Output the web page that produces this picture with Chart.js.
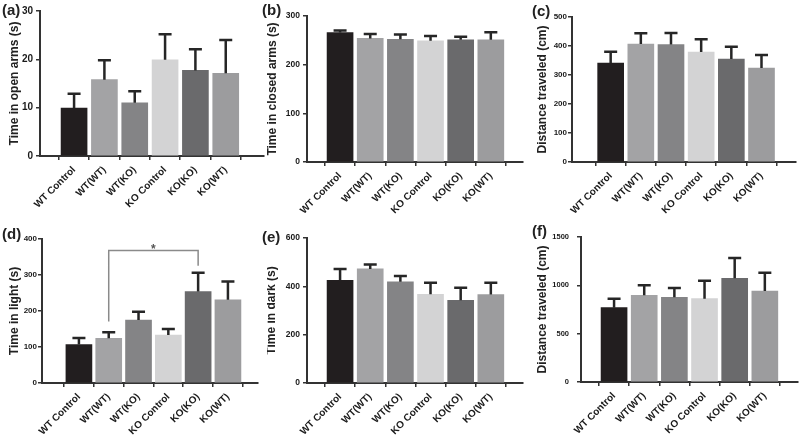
<!DOCTYPE html>
<html>
<head>
<meta charset="utf-8">
<script src="https://cdn.jsdelivr.net/npm/chart.js@4.4.1/dist/chart.umd.min.js"></script>
<style>
  body { margin: 0; background: #fff; }
  #wrap { position: relative; width: 800px; height: 438px; overflow: hidden; background: #fff; }
  #wrap canvas { position: absolute; }
  .tag { position: absolute; font: bold 15px "Liberation Sans", Arial, sans-serif; color: #222; line-height: 15px; }
</style>
</head>
<body>
<div id="wrap"></div>
<script>
const categories = ['WT Control', 'WT(WT)', 'WT(KO)', 'KO Control', 'KO(KO)', 'KO(WT)'];

// means and upper error (SEM) per group
const openArms      = [9.9, 15.8, 11.0, 19.9, 17.7, 17.1];
const openArmsErr   = [3.0, 4.0, 2.4, 5.3, 4.4, 6.9];
const closedArms    = [266, 254, 252, 249, 251, 251];
const closedArmsErr = [4, 9, 10, 10, 6.5, 15.5];
const distEpm       = [341, 407, 405, 379, 355, 324];
const distEpmErr    = [39, 37, 40, 44, 42, 45];
const lightTime     = [107, 124, 175, 133, 254, 231];
const lightTimeErr  = [18, 17, 23, 17, 52, 51];
const darkTime      = [425, 472, 419, 367, 342, 366];
const darkTimeErr   = [47, 18, 24, 48, 52, 49];
const distLd        = [769, 897, 876, 862, 1072, 941];
const distLdErr     = [93, 103, 96, 186, 211, 190];

// significance bracket in (d): groups joined, leg ends and top
const sigPair = [1, 4];
const sigLegs = [171, 326];
const sigTop = 368;

const barColors = ['#221e1f', '#a3a3a5', '#848486', '#d3d3d4', '#6a6a6c', '#9c9c9e'];
const FONT = '"Liberation Sans", Arial, sans-serif';

const panels = [
  {tag: '(a)', tx: 2, ty: 2, box: [0, 0, 267, 219], axisW: 40, padTop: 11, axisH: 63, padRight: 3,
   xMin: -0.508, xMax: 5.646, yMax: 30, step: 10, title: 'Time in open arms (s)', tPad: 9,
   yFont: 10, yPad: 3, mean: openArms, err: openArmsErr},
  {tag: '(b)', tx: 262, ty: 2, box: [267, 0, 266, 219], axisW: 40, padTop: 16, axisH: 57, padRight: 10,
   xMin: -0.5, xMax: 5.47, yMax: 300, step: 100, title: 'Time in closed arms (s)', tPad: 0,
   yFont: 8.5, yPad: 3, mean: closedArms, err: closedArmsErr},
  {tag: '(c)', tx: 532, ty: 3, box: [533, 0, 267, 219], axisW: 39, padTop: 17, axisH: 57, padRight: 4,
   xMin: -0.663, xMax: 5.525, yMax: 500, step: 100, title: 'Distance traveled (cm)', tPad: 4,
   yFont: 8, yPad: 1, mean: distEpm, err: distEpmErr},
  {tag: '(d)', tx: 2, ty: 226, box: [0, 219, 267, 219], axisW: 42, padTop: 20, axisH: 55, padRight: 9,
   xMin: -0.635, xMax: 5.405, yMax: 400, step: 100, title: 'Time in light (s)', tPad: 9,
   yFont: 8, yPad: 1, mean: lightTime, err: lightTimeErr, bracket: true},
  {tag: '(e)', tx: 262, ty: 229, box: [267, 219, 266, 219], axisW: 40, padTop: 19, axisH: 55, padRight: 10,
   xMin: -0.5, xMax: 5.47, yMax: 600, step: 200, title: 'Time in dark (s)', tPad: -1,
   yFont: 8.5, yPad: 3, mean: darkTime, err: darkTimeErr},
  {tag: '(f)', tx: 532, ty: 223, box: [533, 219, 267, 219], axisW: 48, padTop: 18, axisH: 56, padRight: 2,
   xMin: -0.497, xMax: 5.5, yMax: 1500, step: 500, title: 'Distance traveled (cm)', tPad: 4,
   yFont: 7.5, yPad: 8, mean: distLd, err: distLdErr}
];

function errorBars(p) {
  return {
    id: 'errorBars',
    afterDatasetsDraw(chart) {
      const {ctx, scales: {x, y}} = chart;
      ctx.save();
      ctx.strokeStyle = '#262626';
      ctx.lineWidth = 2.5;
      p.mean.forEach((m, i) => {
        const cx = x.getPixelForValue(i);
        const y0 = y.getPixelForValue(m);
        const y1 = y.getPixelForValue(m + p.err[i]);
        ctx.beginPath();
        ctx.moveTo(cx, y0);
        ctx.lineTo(cx, y1);
        ctx.moveTo(cx - 6.5, y1);
        ctx.lineTo(cx + 6.5, y1);
        ctx.stroke();
      });
      if (p.bracket) {
        const xa = x.getPixelForValue(sigPair[0]);
        const xb = x.getPixelForValue(sigPair[1]);
        const yt = y.getPixelForValue(sigTop);
        ctx.strokeStyle = '#8a8a8a';
        ctx.lineWidth = 1.5;
        ctx.beginPath();
        ctx.moveTo(xa, y.getPixelForValue(sigLegs[0]));
        ctx.lineTo(xa, yt);
        ctx.lineTo(xb, yt);
        ctx.lineTo(xb, y.getPixelForValue(sigLegs[1]));
        ctx.stroke();
        ctx.fillStyle = '#555';
        ctx.font = 'bold 12px ' + FONT;
        ctx.textAlign = 'center';
        ctx.textBaseline = 'alphabetic';
        ctx.fillText('*', (xa + xb) / 2, yt + 2);
      }
      ctx.restore();
    }
  };
}

const wrap = document.getElementById('wrap');
panels.forEach(p => {
  const [bx, by, bw, bh] = p.box;
  const cv = document.createElement('canvas');
  cv.width = bw; cv.height = bh;
  cv.style.left = bx + 'px'; cv.style.top = by + 'px';
  cv.style.width = bw + 'px'; cv.style.height = bh + 'px';
  wrap.appendChild(cv);

  const tag = document.createElement('div');
  tag.className = 'tag';
  tag.textContent = p.tag;
  tag.style.left = p.tx + 'px'; tag.style.top = p.ty + 'px';
  wrap.appendChild(tag);

  new Chart(cv.getContext('2d'), {
    type: 'bar',
    data: {
      datasets: [{
        data: p.mean.map((v, i) => ({x: i, y: v})),
        backgroundColor: barColors,
        borderWidth: 0,
        barThickness: 26
      }]
    },
    options: {
      responsive: false,
      animation: false,
      layout: {padding: {top: p.padTop, right: p.padRight, left: 0, bottom: 0}},
      plugins: {legend: {display: false}, tooltip: {enabled: false}},
      scales: {
        x: {
          type: 'linear',
          min: p.xMin, max: p.xMax,
          afterFit: s => { s.height = p.axisH; },
          ticks: {
            stepSize: 1, includeBounds: false, autoSkip: false,
            minRotation: 45, maxRotation: 45, padding: 4,
            color: '#1a1a1a', font: {family: FONT, size: 10, weight: 'bold'},
            callback: v => Number.isInteger(v) ? (categories[v] || '') : ''
          },
          grid: {drawOnChartArea: false, drawTicks: true, tickLength: 4, color: '#333', lineWidth: 1.5},
          border: {color: '#333', width: 2}
        },
        y: {
          min: 0, max: p.yMax,
          afterFit: s => { s.width = p.axisW; },
          ticks: {
            stepSize: p.step, padding: p.yPad, color: '#1a1a1a',
            font: {family: FONT, size: p.yFont, weight: 'bold'},
            callback: v => String(v)
          },
          grid: {drawOnChartArea: false, drawTicks: true, tickLength: 4, color: '#333', lineWidth: 1.5},
          border: {color: '#333', width: 2},
          title: {
            display: true, text: p.title, color: '#222',
            font: {family: FONT, size: 12, weight: 'bold', lineHeight: 1},
            padding: {top: p.tPad, bottom: 0}
          }
        }
      }
    },
    plugins: [errorBars(p)]
  });
});
</script>
</body>
</html>
